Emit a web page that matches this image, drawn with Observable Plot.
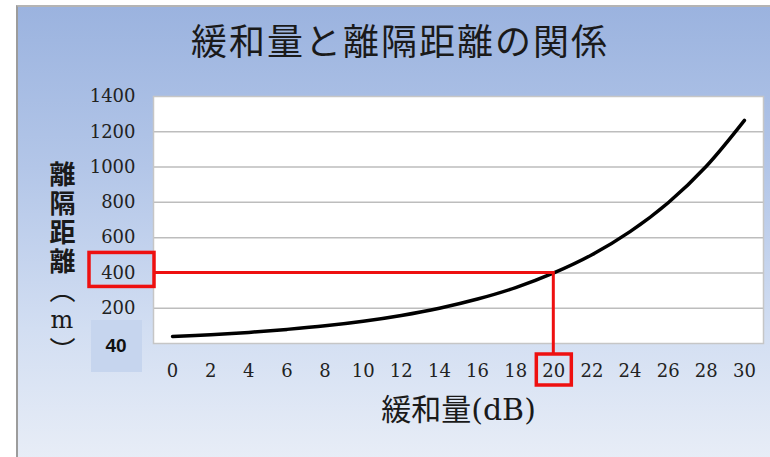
<!DOCTYPE html>
<html>
<head>
<meta charset="utf-8">
<script src="https://cdn.jsdelivr.net/npm/d3@7"></script>
<script src="https://cdn.jsdelivr.net/npm/@observablehq/plot@0.6"></script>
<style>
  html, body { margin: 0; padding: 0; background: #ffffff; }
  #page { position: relative; width: 770px; height: 457px; overflow: hidden; background: #ffffff; }
  #panel {
    position: absolute; left: 16px; top: 5px; width: 760px; height: 460px;
    border-left: 2px solid #9c9c9c; border-top: 2px solid #b4b4b4;
    background: linear-gradient(to bottom, #9bb3df 0%, #b3c6e8 35%, #d2def2 70%, #e9eef7 100%);
  }
  #title {
    position: absolute; left: 0; width: 800px; top: 21px; text-align: center;
    font-family: "Noto Sans CJK JP", sans-serif; font-size: 36px; letter-spacing: 2px;
    color: #1a1a1a; line-height: 1;
  }
  #ylabel {
    position: absolute; left: 49px; top: 161px;
    writing-mode: vertical-rl; text-orientation: mixed;
    font-family: "Noto Sans CJK JP", sans-serif; font-size: 26px;
    letter-spacing: 3px; color: #1a1a1a; line-height: 1;
  }
  #ylabel .kanji { font-weight: bold; }
  #ylabel .unit { font-family: "DejaVu Serif", serif; text-orientation: upright; font-size: 24px; }
  #chart { position: absolute; left: 0; top: 0; }
</style>
</head>
<body>
<div id="page">
  <div id="panel"></div>
  <div id="title"></div>
  <div id="ylabel"><span class="kanji"></span><span class="open"></span><span class="unit"></span><span class="close"></span></div>
  <div id="chart"></div>
</div>
<script>
// 緩和量 (dB) and the corresponding 離隔距離 (m)
const attenuation = [0, 2, 4, 6, 8, 10, 12, 14, 16, 18, 20, 22, 24, 26, 28, 30];
const separation = [40, 50, 63, 80, 100, 126, 159, 200, 252, 317, 400, 503, 634, 798, 1005, 1265];

const xTicks = [0, 2, 4, 6, 8, 10, 12, 14, 16, 18, 20, 22, 24, 26, 28, 30];
const yTicks = [200, 400, 600, 800, 1000, 1200, 1400];
const gridLines = [200, 400, 600, 800, 1000, 1200];

const titleText = "緩和量と離隔距離の関係";
const yLabelName = "離隔距離";
const yLabelUnit = "m";
const xLabelText = "緩和量(dB)";

// highlighted reading: 20 dB -> 400 m
const markDb = 20;
const markDistance = separation[attenuation.indexOf(markDb)];

const table = attenuation.map((d, i) => ({db: d, dist: separation[i]}));

document.getElementById("title").textContent = titleText;
const yl = document.getElementById("ylabel");
yl.querySelector(".kanji").textContent = yLabelName;
yl.querySelector(".open").textContent = "（";
yl.querySelector(".unit").textContent = yLabelUnit;
yl.querySelector(".close").textContent = "）";

const red = "#ee1010";

// red guide lines and boxes around the highlighted tick labels, plus the
// shaded box holding the value at 0 dB
function highlight(index, {x, y}, values, dims) {
  const g = d3.create("svg:g");
  const left = dims.marginLeft;
  const bottom = dims.height - dims.marginBottom;
  const px = x(markDb), py = y(markDistance);
  const y0 = y(0);

  g.append("rect")
    .attr("x", left - 62).attr("y", y0 - 23)
    .attr("width", 51).attr("height", 52)
    .attr("fill", "#c6d5ee");
  g.append("text")
    .attr("x", left - 37).attr("y", y0 + 4)
    .attr("text-anchor", "middle").attr("dominant-baseline", "middle")
    .attr("font-family", "Liberation Sans, Arial, sans-serif")
    .attr("font-weight", "bold").attr("font-size", 19).attr("fill", "#111")
    .text(separation[0]);

  g.append("polyline")
    .attr("points", `${left + 1},${py} ${px},${py} ${px},${bottom + 11}`)
    .attr("fill", "none").attr("stroke", red).attr("stroke-width", 3);
  g.append("rect")
    .attr("x", left - 64).attr("y", py - 20)
    .attr("width", 65).attr("height", 34)
    .attr("fill", "none").attr("stroke", red).attr("stroke-width", 3.5);
  g.append("rect")
    .attr("x", px - 17).attr("y", bottom + 11)
    .attr("width", 35).attr("height", 31)
    .attr("fill", "none").attr("stroke", red).attr("stroke-width", 3.5);
  return g.node();
}

const chart = Plot.plot({
  width: 770,
  height: 457,
  marginLeft: 153,
  marginRight: 7,
  marginTop: 96,
  marginBottom: 114,
  style: {background: "transparent", fontFamily: "DejaVu Serif, serif", fontSize: "18px", color: "#222", overflow: "visible"},
  x: {domain: [-1, 31]},
  y: {domain: [0, 1400]},
  marks: [
    Plot.frame({fill: "white"}),
    Plot.ruleY(gridLines, {stroke: "#bdbdbd", strokeWidth: 1.5}),
    Plot.frame({stroke: "#c6c6c6", strokeWidth: 1.5}),
    Plot.axisY(yTicks, {tickSize: 0, tickPadding: 18, label: null, fill: "#222", fontSize: 18, tickFormat: d => String(d)}),
    Plot.axisX(xTicks, {tickSize: 0, tickPadding: 21, label: null, fill: "#222", fontSize: 18, tickFormat: d => String(d)}),
    Plot.text([xLabelText], {
      frameAnchor: "bottom", dy: 67, lineAnchor: "middle",
      fontSize: 30, fill: "#1a1a1a", fontFamily: "DejaVu Serif, Noto Sans CJK JP, serif",
      style: {letterSpacing: "2px"}
    }),
    Plot.line(table, {x: "db", y: "dist", stroke: "#000", strokeWidth: 3.5, curve: "catmull-rom"}),
    highlight
  ]
});

document.getElementById("chart").appendChild(chart);
</script>
</body>
</html>
